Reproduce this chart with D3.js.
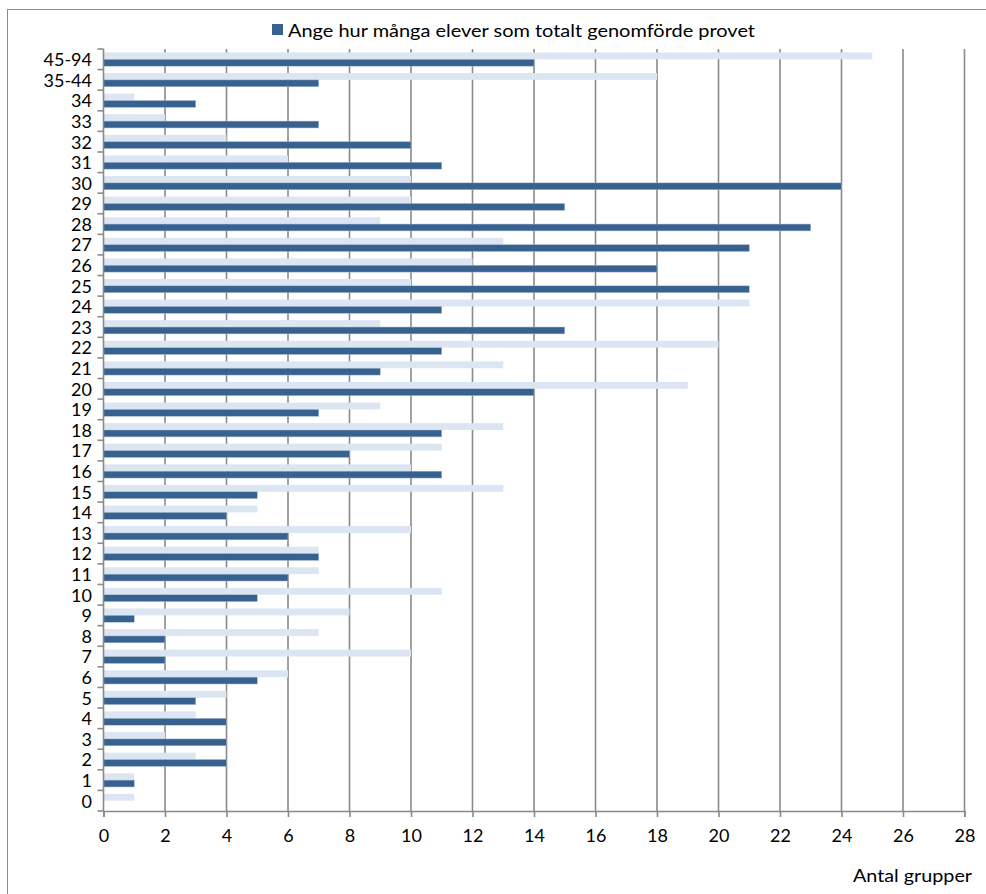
<!DOCTYPE html>
<html>
<head>
<meta charset="utf-8">
<script src="https://cdn.jsdelivr.net/npm/d3@7/dist/d3.min.js"></script>
<style>
  html, body { margin: 0; padding: 0; background: #ffffff; }
  svg { display: block; }
  text { font-family: Lato, "Open Sans", sans-serif; fill: #000; }
</style>
</head>
<body>
<svg id="chart" width="986" height="894"></svg>
<script>
// Number of pupils per group (categories listed bottom to top)
const categories = ["0","1","2","3","4","5","6","7","8","9","10","11","12","13","14","15","16","17",
  "18","19","20","21","22","23","24","25","26","27","28","29","30","31","32","33","34","35-44","45-94"];

// Dark series: "Ange hur många elever som totalt genomförde provet"
const completedGroups = [0,1,4,4,4,3,5,2,2,1,5,6,7,6,4,5,11,8,11,7,14,9,11,15,11,21,18,21,23,15,24,11,10,7,3,7,14];

// Light series (no legend entry)
const otherGroups = [1,1,3,2,3,4,6,10,7,8,11,7,7,10,5,13,10,11,13,9,19,13,20,9,21,10,12,13,9,10,10,6,4,2,1,18,25];

const xTicks = [0,2,4,6,8,10,12,14,16,18,20,22,24,26,28];
const legendLabel = "Ange hur många elever som totalt genomförde provet";
const xTitle = "Antal grupper";

const darkColor = "#37618f";
const lightColor = "#dce6f2";
const gridColor = "#8a8a8a";

const svg = d3.select("#chart");

// outer chart frame
svg.append("rect")
  .attr("x", 7.5).attr("y", 9.5)
  .attr("width", 990).attr("height", 900)
  .attr("fill", "none").attr("stroke", "#8c8c8c").attr("stroke-width", 1);

const plot = { left: 103.5, right: 964.5, top: 49, bottom: 811 };

const x = d3.scaleLinear().domain([0, 28]).range([plot.left, plot.right]);
const y = d3.scaleBand()
  .domain(categories.slice().reverse())
  .range([plot.top, plot.bottom])
  .paddingInner(0).paddingOuter(0);

// two bars per band, one third of the band each, centred
const sub = d3.scaleBand().domain(["other", "completed"])
  .range([y.bandwidth() / 6, y.bandwidth() * 5 / 6]).padding(0);

// vertical gridlines
svg.append("g").selectAll("line")
  .data(xTicks.filter(d => d > 0))
  .join("line")
  .attr("x1", d => x(d)).attr("x2", d => x(d))
  .attr("y1", plot.top).attr("y2", plot.bottom)
  .attr("stroke", gridColor).attr("stroke-width", 1.6);

const rows = categories.map((c, i) => ({ c, completed: completedGroups[i], other: otherGroups[i] }));

// light bars
svg.append("g").selectAll("rect")
  .data(rows.filter(d => d.other > 0))
  .join("rect")
  .attr("x", x(0))
  .attr("y", d => y(d.c) + sub("other"))
  .attr("width", d => x(d.other) - x(0))
  .attr("height", sub.bandwidth())
  .attr("fill", lightColor);

// dark bars
svg.append("g").selectAll("rect")
  .data(rows.filter(d => d.completed > 0))
  .join("rect")
  .attr("x", x(0))
  .attr("y", d => y(d.c) + sub("completed"))
  .attr("width", d => x(d.completed) - x(0))
  .attr("height", sub.bandwidth())
  .attr("fill", darkColor)
  .attr("stroke", "#a9bcd4").attr("stroke-width", 0.5);

// y axis: ticks at band boundaries, labels centred in bands
const yAxisG = svg.append("g");
yAxisG.append("line")
  .attr("x1", plot.left).attr("x2", plot.left)
  .attr("y1", plot.top).attr("y2", plot.bottom)
  .attr("stroke", gridColor).attr("stroke-width", 1.6);
const boundaries = d3.range(categories.length + 1).map(i => plot.top + i * y.step());
yAxisG.selectAll("line.tick")
  .data(boundaries)
  .join("line").attr("class", "tick")
  .attr("x1", plot.left - 6).attr("x2", plot.left)
  .attr("y1", d => d).attr("y2", d => d)
  .attr("stroke", gridColor).attr("stroke-width", 1.6);
yAxisG.selectAll("text")
  .data(categories)
  .join("text")
  .attr("x", 92)
  .attr("y", d => y(d) + y.bandwidth() / 2)
  .attr("dy", "0.38em")
  .attr("text-anchor", "end")
  .attr("font-size", 18)
  .text(d => d);

// x axis
const xAxis = d3.axisBottom(x).tickValues(xTicks).tickSize(6).tickPadding(12).tickFormat(d3.format("d"));
const xAxisG = svg.append("g")
  .attr("transform", `translate(0,${plot.bottom})`)
  .call(xAxis);
xAxisG.select(".domain").attr("stroke", gridColor).attr("stroke-width", 1.6);
xAxisG.selectAll(".tick line").attr("stroke", gridColor).attr("stroke-width", 1.6);
xAxisG.selectAll(".tick text")
  .attr("font-family", "Lato, sans-serif")
  .attr("font-size", 18)
  .attr("fill", "#000");

// x axis title
svg.append("text")
  .attr("x", 972).attr("y", 882)
  .attr("text-anchor", "end")
  .attr("font-size", 17)
  .attr("textLength", 119)
  .attr("lengthAdjust", "spacingAndGlyphs")
  .text(xTitle);

// legend
const legend = svg.append("g").attr("transform", "translate(272,24)");
legend.append("rect")
  .attr("x", 0).attr("y", 0).attr("width", 11).attr("height", 11)
  .attr("fill", darkColor);
legend.append("text")
  .attr("x", 16).attr("y", 12.5)
  .attr("font-size", 18)
  .attr("textLength", 467)
  .attr("lengthAdjust", "spacingAndGlyphs")
  .text(legendLabel);
</script>
</body>
</html>
